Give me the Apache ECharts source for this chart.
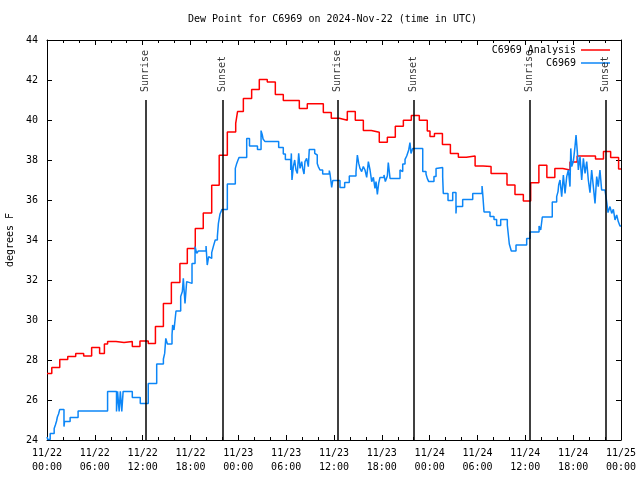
<!DOCTYPE html>
<html>
<head>
<meta charset="utf-8">
<script src="https://cdn.jsdelivr.net/npm/echarts@6/dist/echarts.min.js"></script>
<style>html,body{margin:0;padding:0;background:#fff}#c{width:640px;height:480px}</style>
</head>
<body>
<div id="c"></div>
<script>
// Hours since 2024-11-22 00:00 UTC
const xTickLabels = ['11/22\n00:00','11/22\n06:00','11/22\n12:00','11/22\n18:00','11/23\n00:00','11/23\n06:00','11/23\n12:00','11/23\n18:00','11/24\n00:00','11/24\n06:00','11/24\n12:00','11/24\n18:00','11/25\n00:00'];

const analysisHours = [0,0.6,1.6,2.6,3.6,4.6,5.6,6.6,7.2,7.6,8.66,9.66,10.7,11.66,12.7,13.6,14.6,15.6,16.67,17.6,18.6,19.6,20.66,21.6,22.62,23.67,23.9,24.63,25.67,26.63,27.63,28.64,29.64,31.65,32.65,34.66,35.66,36.67,37.67,38.67,39.68,40.68,41.68,42.69,43.69,44.7,45.7,46.7,47.7,48.04,48.6,49.6,50.6,51.6,52.6,53.7,54.7,55.7,57.7,58.7,59.75,60.67,61.7,62.7,63.7,64.7,65.6,66.5,68.8,69.8,70.7,71.7,72];
const analysisValues = [27.33,27.63,28.03,28.17,28.33,28.2,28.63,28.33,28.8,28.92,28.87,28.92,28.67,28.95,28.83,29.68,30.83,31.87,32.83,33.57,34.58,35.35,36.74,38.24,39.4,39.83,40.42,41.08,41.53,42.03,41.9,41.27,40.98,40.58,40.81,40.38,40.09,39.99,40.43,39.99,39.48,39.39,38.89,39.14,39.69,39.99,40.23,39.99,39.45,39.17,39.33,38.78,38.32,38.14,38.2,37.7,37.67,37.32,36.75,36.27,35.95,36.86,37.74,37.13,37.58,37.5,37.9,38.2,38.05,38.43,38.13,37.55,37.55];

const obsHours = [0,0.1,0.4,0.9,1.05,1.2,1.3,1.45,1.6,2.13,2.2,2.9,3.9,7.6,8.72,8.85,9.05,9.2,9.38,9.55,10.7,11.7,12.7,13.76,14.6,14.76,14.9,15.1,15.68,15.76,15.93,16.18,16.77,16.98,17.1,17.31,17.52,17.73,18.19,18.57,18.78,18.98,19.95,20.1,20.28,20.45,20.66,20.86,21.1,21.37,21.5,21.7,21.95,22.62,23.62,23.8,23.96,24.1,25.05,25.4,26.4,26.85,27.0,27.1,27.35,29.06,29.64,29.9,30.57,30.65,30.73,30.9,31.07,31.23,31.4,31.57,31.74,31.95,32.07,32.24,32.36,32.57,32.78,32.9,33.58,33.74,33.9,34.03,34.24,34.58,35.41,35.5,35.71,35.84,36.75,37.34,37.92,38.76,38.93,39.1,39.26,39.47,39.68,39.89,40.1,40.31,40.52,40.73,40.94,41.14,41.27,41.44,41.6,41.77,42.27,42.44,42.69,42.81,43.03,44.28,44.45,44.62,44.91,45.12,45.37,45.53,45.66,45.87,47.13,47.54,47.7,47.88,48.54,48.8,48.96,49.63,49.71,50.3,50.89,51.3,51.35,52.14,53.4,54.57,54.65,54.82,55.57,56.07,56.4,56.91,57.74,57.99,58.24,58.83,60.17,60.59,61.72,61.93,62.13,63.38,63.93,64.1,64.18,64.35,64.56,64.77,64.98,65.19,65.4,65.6,65.7,65.82,66.02,66.23,66.36,66.52,66.65,66.86,67.07,67.28,67.49,67.7,67.9,68.11,68.32,68.53,68.74,68.95,69.15,69.36,69.57,69.99,70.2,70.37,70.62,70.83,71.04,71.25,71.46,71.66,71.87,72];
const obsValues = [24.15,24.03,24.33,24.58,24.75,24.95,25.15,25.3,25.53,24.67,24.92,25.13,25.45,26.43,25.43,26.43,25.43,26.43,25.43,26.43,26.13,25.83,26.83,27.8,28.05,28.33,29.08,28.8,29.25,29.75,29.5,30.45,31.17,31.42,32.08,30.83,31.92,31.83,32.83,33.67,33.33,33.45,33.7,32.75,33.17,33.08,33.37,33.67,34.0,34.17,34.83,35.3,35.53,36.8,37.58,37.83,38.0,38.13,39.08,38.7,38.53,39.47,39.27,39.05,38.92,38.63,38.3,38.03,37.5,38.33,37.0,37.67,38.0,37.5,37.33,38.33,37.58,37.92,37.58,37.3,37.92,38.08,37.67,38.53,38.33,38.25,37.83,37.67,37.5,37.3,37.47,37.3,36.63,36.97,36.63,36.87,37.2,37.42,38.25,37.83,37.58,37.42,37.67,37.5,37.13,37.92,37.5,36.92,37.13,36.58,36.92,36.28,36.83,37.13,37.25,36.92,37.2,37.87,37.08,37.5,37.42,37.8,38.03,38.2,38.5,38.87,38.33,38.58,37.42,37.3,37.08,36.92,37.17,37.58,37.63,37.17,36.33,35.97,36.37,35.33,35.67,36.03,36.33,36.7,36.33,35.4,35.17,35.03,34.73,35.03,34.75,33.8,33.45,33.75,34.08,34.4,34.7,34.5,35.15,35.9,36.17,36.42,36.75,37.0,36.17,37.25,36.33,37.17,37.5,36.67,38.58,37.67,37.92,38.67,39.25,38.42,37.5,38.17,37.0,38.08,37.33,37.92,37.0,36.37,37.5,36.67,35.83,37.17,36.67,37.5,36.5,36.5,35.92,35.37,35.67,35.33,35.53,35.0,35.25,34.92,34.7,34.7];

const sunLabels = ['Sunrise','Sunset','Sunrise','Sunset','Sunrise','Sunset'];
const sunHours = [12.33, 21.99, 36.41, 45.95, 60.5, 70.03];
const sunLineTop = 41;

const FONT = 'DejaVu Sans Mono';
const FS = 10;
const RED = '#ff0000';
const BLUE = '#0c86f7';

const analysisData = analysisHours.map((h, i) => [h, analysisValues[i]]);
const obsData = obsHours.map((h, i) => [h, obsValues[i]]);
const sunLabelData = sunHours.map((h, i) => ({ value: [h, sunLineTop], name: sunLabels[i] }));
const sunLineData = sunHours.map(h => [{ coord: [h, 24] }, { coord: [h, sunLineTop] }]);

const chart = echarts.init(document.getElementById('c'), null, { renderer: 'canvas' });

const xCommon = {
  type: 'value', min: 0, max: 72, interval: 6,
  axisLine: { show: true, onZero: false, lineStyle: { color: '#000', width: 1 } },
  axisTick: { show: true, inside: true, length: 5, lineStyle: { color: '#000' } },
  minorTick: { show: true, splitNumber: 3, length: 3, lineStyle: { color: '#000' } },
  splitLine: { show: false }, minorSplitLine: { show: false }
};
const yCommon = {
  type: 'value', min: 24, max: 44, interval: 2,
  axisLine: { show: true, onZero: false, lineStyle: { color: '#000', width: 1 } },
  axisTick: { show: true, inside: true, length: 5, lineStyle: { color: '#000' } },
  splitLine: { show: false }
};

chart.setOption({
  animation: false,
  backgroundColor: '#fff',
  title: {
    text: 'Dew Point for C6969 on 2024-Nov-22 (time in UTC)',
    left: 188, top: 14, padding: 0,
    textStyle: { fontFamily: FONT, fontSize: FS, fontWeight: 'normal', color: '#000' }
  },
  legend: {
    data: [
      { name: 'C6969 Analysis', icon: 'rect', itemStyle: { color: RED } },
      { name: 'C6969', icon: 'rect', itemStyle: { color: BLUE } }
    ],
    orient: 'vertical', right: 30, top: 44, align: 'right', padding: 0,
    itemWidth: 29, itemHeight: 1.5, itemGap: 1,
    textStyle: { fontFamily: FONT, fontSize: FS, color: '#000', lineHeight: 12 }
  },
  grid: { left: 47, right: 19, top: 40, bottom: 40, containLabel: false, outerBoundsMode: 'none' },
  xAxis: [
    Object.assign({}, xCommon, {
      position: 'bottom',
      axisLabel: {
        show: true, margin: 6, lineHeight: 14, showMinLabel: true, showMaxLabel: true,
        fontFamily: FONT, fontSize: FS, color: '#000',
        formatter: v => xTickLabels[Math.round(v / 6)]
      }
    }),
    Object.assign({}, xCommon, { position: 'top', axisLabel: { show: false } })
  ],
  yAxis: [
    Object.assign({}, yCommon, {
      position: 'left',
      name: 'degrees F', nameLocation: 'middle', nameGap: 32, nameRotate: 90,
      nameTextStyle: { fontFamily: FONT, fontSize: FS, color: '#000' },
      axisLabel: { show: true, margin: 9, fontFamily: FONT, fontSize: FS, color: '#000' }
    }),
    Object.assign({}, yCommon, { position: 'right', axisLabel: { show: false } })
  ],
  series: [
    {
      name: 'C6969 Analysis', type: 'line', step: 'end', data: analysisData,
      showSymbol: false, symbol: 'none',
      lineStyle: { color: RED, width: 1.5 }, itemStyle: { color: RED },
      z: 3
    },
    {
      name: 'C6969', type: 'line', step: 'end', data: obsData,
      showSymbol: false, symbol: 'none',
      lineStyle: { color: BLUE, width: 1.5 }, itemStyle: { color: BLUE },
      z: 4
    },
    {
      name: 'sun', type: 'scatter', data: sunLabelData, symbolSize: 0, silent: true,
      label: {
        show: true, position: 'top', distance: 8, rotate: 90,
        align: 'left', verticalAlign: 'middle',
        formatter: p => p.name,
        fontFamily: FONT, fontSize: FS, color: '#000'
      },
      markLine: {
        silent: true, symbol: ['none', 'none'], label: { show: false },
        lineStyle: { color: '#000', width: 1.5, type: 'solid' },
        data: sunLineData
      },
      z: 5
    }
  ]
});
</script>
</body>
</html>
